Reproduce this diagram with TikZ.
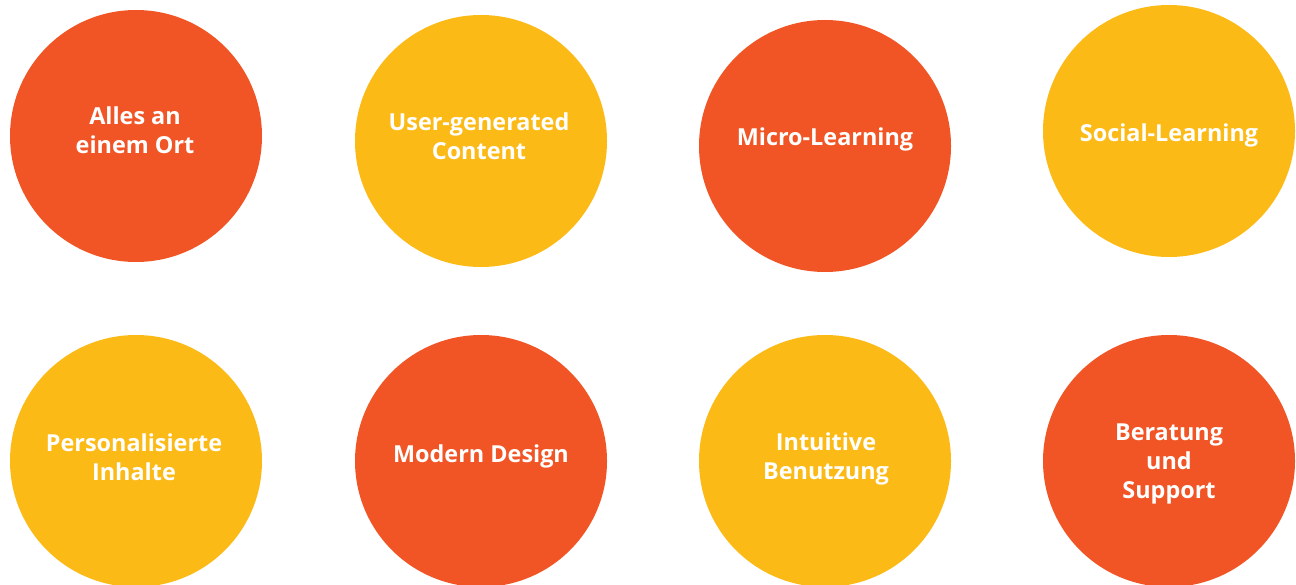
\documentclass[tikz,border=0pt]{standalone}
\usepackage{fontspec}
\setmainfont{Open Sans}
\definecolor{corange}{HTML}{F15525}
\definecolor{cyellow}{HTML}{FCBA16}
\tikzset{
  disc/.style={circle, minimum size=252pt, inner sep=0pt, draw=none},
  orangedisc/.style={disc, fill=corange},
  yellowdisc/.style={disc, fill=cyellow},
  lbl/.style={text=white, font=\bfseries\fontsize{23.4}{29}\selectfont, align=center, inner sep=0pt, anchor=base}
}
\begin{document}
\begin{tikzpicture}[x=1pt,y=-1pt]
\useasboundingbox (0,0) rectangle (1296,585);
\fill[white] (0,0) rectangle (1296,585);
\node[orangedisc] (c1) at (136,136) {};
\node[yellowdisc] (c2) at (481,141) {};
\node[orangedisc] (c3) at (825,146) {};
\node[yellowdisc] (c4) at (1169,131) {};
\node[yellowdisc] (c5) at (136,461) {};
\node[orangedisc] (c6) at (481,461) {};
\node[yellowdisc] (c7) at (825,461) {};
\node[orangedisc] (c8) at (1169,461) {};
\node[lbl] (t1) at (135,154) {Alles an\\einem Ort};
\node[lbl] (t2) at (479,160) {User-generated\\Content};
\node[lbl] (t3) at (825,146) {Micro-Learning};
\node[lbl] (t4) at (1169,142) {Social-Learning};
\node[lbl] (t5) at (134,480) {Personalisierte\\Inhalte};
\node[lbl] (t6) at (481,462) {Modern Design};
\node[lbl] (t7) at (826,479) {Intuitive\\Benutzung};
\node[lbl] (t8) at (1169,498) {Beratung\\und\\Support};
\end{tikzpicture}
\end{document}
